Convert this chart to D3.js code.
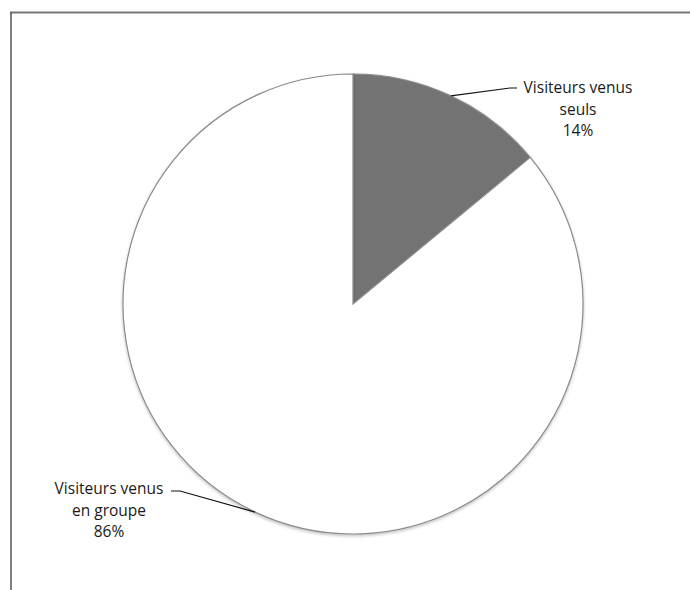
<!DOCTYPE html>
<html><head><meta charset="utf-8">
<script src="https://cdn.jsdelivr.net/npm/d3@7/dist/d3.min.js"></script>
<style>body{margin:0;background:#fff}svg{display:block}</style>
</head><body>
<svg id="c" width="690" height="590"></svg>
<script>
const categories = ["Visiteurs venus seuls", "Visiteurs venus en groupe"];
const values = [14, 86];
const labelLines = [["Visiteurs venus", "seuls", "14%"], ["Visiteurs venus", "en groupe", "86%"]];
const colors = ["#737373", "#ffffff"];

const svg = d3.select("#c");
// frame (cropped chart area border)
svg.append("line").attr("x1", 10).attr("y1", 12.5).attr("x2", 690).attr("y2", 12.5).attr("stroke", "#777").attr("stroke-width", 2);
svg.append("line").attr("x1", 11).attr("y1", 12).attr("x2", 11).attr("y2", 590).attr("stroke", "#555").attr("stroke-width", 1.5);

const defs = svg.append("defs");
const f = defs.append("filter").attr("id", "sh").attr("x", "-10%").attr("y", "-10%").attr("width", "120%").attr("height", "120%");
f.append("feDropShadow").attr("dx", 0).attr("dy", 1.5).attr("stdDeviation", 1.5).attr("flood-color", "#000").attr("flood-opacity", 0.25);

const cx = 353, cy = 304, r = 230;
const pie = d3.pie().sort(null).value(d => d)(values);
const arc = d3.arc().innerRadius(0).outerRadius(r);
const g = svg.append("g").attr("transform", `translate(${cx},${cy})`);
g.selectAll("path").data(pie).join("path")
  .attr("d", arc)
  .attr("fill", (d, i) => colors[i])
  .attr("stroke", "#8a8a8a")
  .attr("stroke-width", 1.2)
  .attr("filter", "url(#sh)");

// leader lines from each slice's mid-angle on the rim
const leaders = [
  { mid: [510, 88], end: [517, 88] },
  { mid: [180, 491], end: [171, 491] }
];
pie.forEach((d, i) => {
  const a = (d.startAngle + d.endAngle) / 2;
  const px = cx + r * Math.sin(a), py = cy - r * Math.cos(a);
  svg.append("polyline")
    .attr("points", [[px, py], leaders[i].mid, leaders[i].end].map(p => p.join(",")).join(" "))
    .attr("fill", "none").attr("stroke", "#111").attr("stroke-width", 1.2);
});

const labelPos = [[578, 93], [109, 494]];
labelLines.forEach((lines, i) => {
  const t = svg.append("text").attr("text-anchor", "middle")
    .attr("font-family", "'Open Sans', sans-serif").attr("font-size", 15.5).attr("fill", "#1a1a1a");
  lines.forEach((s, j) => t.append("tspan").attr("x", labelPos[i][0]).attr("y", labelPos[i][1] + j * 21.5).text(s));
});
</script>
</body></html>
